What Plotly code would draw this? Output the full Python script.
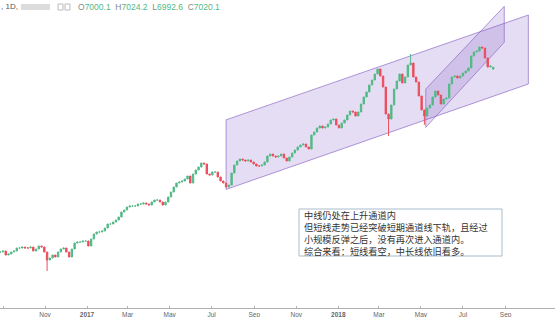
import pandas as pd
import plotly.graph_objects as go

# ---------------- data ----------------
START_DATE = "2016-08-28"
BAR_FREQ = "4D"
closes = [
    4804, 4816, 4768, 4780, 4804, 4816, 4852, 4852, 4864, 4852,
    4852, 4864, 4816, 4840, 4876, 4864, 4804, 4708, 4732, 4768,
    4744, 4804, 4840, 4852, 4804, 4744, 4840, 4912, 4924, 4924,
    4936, 4936, 4876, 4960, 5020, 5044, 5044, 5056, 5092, 5140,
    5140, 5164, 5188, 5224, 5284, 5308, 5344, 5356, 5356, 5356,
    5380, 5380, 5392, 5380, 5368, 5404, 5428, 5428, 5404, 5368,
    5404, 5464, 5524, 5584, 5632, 5644, 5656, 5680, 5716, 5632,
    5740, 5788, 5824, 5872, 5860, 5740, 5728, 5764, 5764, 5704,
    5656, 5632, 5584, 5608, 5752, 5848, 5896, 5920, 5908, 5896,
    5908, 5884, 5860, 5836, 5836, 5848, 5884, 5956, 5980, 5956,
    5944, 5956, 5980, 5932, 5896, 5944, 5992, 6028, 6064, 6088,
    6100, 6064, 6040, 6208, 6244, 6292, 6316, 6292, 6304, 6340,
    6388, 6400, 6328, 6292, 6352, 6388, 6448, 6496, 6484, 6436,
    6484, 6580, 6664, 6724, 6808, 6868, 6940, 7000, 6916, 6784,
    6460, 6400, 6568, 6760, 6856, 6940, 6832, 6904, 7048, 7072,
    6904, 6844, 6676, 6508, 6436, 6532, 6568, 6664, 6736, 6688,
    6580, 6640, 6652, 6820, 6904, 6916, 6892, 6916, 6952, 6976,
    7012, 7156, 7204, 7216, 7264, 7252, 7132, 7024, 7036, 7020.1,
]
# notable wicks (bar index -> price)
wick_lows = {17: 4576, 141: 6196, 154: 6330}
wick_highs = {149: 7180}
# last bar from the header
LAST_O, LAST_H, LAST_L, LAST_C = 7000.1, 7024.2, 6992.6, 7020.1

# channels
big_ch_dates = ["2017-07-22", "2018-10-04"]
big_ch_top = [6390, 7648]
big_ch_bot = [5555, 6820]
small_ch_dates = ["2018-05-08", "2018-08-30"]
small_ch_top = [6760, 7752]
small_ch_bot = [6300, 7320]

tick_dates = ["2016-09-01", "2016-11-01", "2017-01-01", "2017-03-01", "2017-05-01",
              "2017-07-01", "2017-09-01", "2017-11-01", "2018-01-01", "2018-03-01",
              "2018-05-01", "2018-07-01", "2018-09-01"]
tick_text = ["Sep", "Nov", "<b>2017</b>", "Mar", "May", "Jul", "Sep", "Nov",
             "<b>2018</b>", "Mar", "May", "Jul", "Sep"]

note_lines = [
    "中线仍处在上升通道内",
    "但短线走势已经突破短期通道线下轨，且经过",
    "小规模反弹之后，没有再次进入通道内。",
    "综合来看：短线看空，中长线依旧看多。",
]

# ---------------- build OHLC ----------------
dates = pd.date_range(START_DATE, periods=len(closes), freq=BAR_FREQ)
opens = [closes[0]] + closes[:-1]
highs = [max(o, c) for o, c in zip(opens, closes)]
lows = [min(o, c) for o, c in zip(opens, closes)]
for i, v in wick_lows.items():
    lows[i] = v
for i, v in wick_highs.items():
    highs[i] = v
opens[-1], highs[-1], lows[-1], closes[-1] = LAST_O, LAST_H, LAST_L, LAST_C

GREEN = "#53b987"
RED = "#eb4d5c"

fig = go.Figure()
fig.add_trace(go.Candlestick(
    x=dates, open=opens, high=highs, low=lows, close=closes,
    increasing=dict(line=dict(color=GREEN, width=1), fillcolor=GREEN),
    decreasing=dict(line=dict(color=RED, width=1), fillcolor=RED),
    whiskerwidth=0, showlegend=False, hoverinfo="skip",
))

W, H = 555, 317
PB = 9
PH = H - PB
SCALE = 12.0  # price units per pixel row
TOP_PRICE = 7840 - SCALE


def px(x):
    return x / W


def py(y):
    return 1 - y / PH


def chan_path(d, top, bot):
    return (f"M {d[0]},{bot[0]} L {d[0]},{top[0]} L {d[1]},{top[1]} "
            f"L {d[1]},{bot[1]} Z")


shapes = []
for d, t, b in [(big_ch_dates, big_ch_top, big_ch_bot),
                (small_ch_dates, small_ch_top, small_ch_bot)]:
    shapes.append(dict(type="path", xref="x", yref="y", path=chan_path(d, t, b),
                       fillcolor="rgba(126,87,194,0.2)",
                       line=dict(color="rgba(126,87,194,0.6)", width=1),
                       layer="below"))

# note box
shapes.append(dict(type="rect", xref="paper", yref="paper",
                   x0=px(299), x1=px(502), y0=py(256), y1=py(209),
                   line=dict(color="#a9bccd", width=1), fillcolor="rgba(255,255,255,0)"))
# blurred symbol + icons in header
shapes.append(dict(type="rect", xref="paper", yref="paper",
                   x0=px(21), x1=px(50), y0=py(10), y1=py(4),
                   line=dict(width=0), fillcolor="#dcdcdc"))
for x0 in (58, 65):
    shapes.append(dict(type="rect", xref="paper", yref="paper",
                       x0=px(x0), x1=px(x0 + 5), y0=py(10), y1=py(4),
                       line=dict(color="#bbbbbb", width=1), fillcolor="rgba(0,0,0,0)"))

annotations = [dict(text="<br>".join(note_lines), xref="paper", yref="paper",
                    x=px(302), y=py(233), xanchor="left", yanchor="middle",
                    align="left", showarrow=False,
                    font=dict(family="Noto Sans CJK SC", size=9.2, color="#333333"))]

annotations.append(dict(text=", 1D,", xref="paper", yref="paper", x=px(-1), y=py(7),
                        xanchor="left", yanchor="middle", showarrow=False,
                        font=dict(family="Liberation Sans", size=8, color="#555555")))
hdr = (f"O<span style='color:{GREEN}'>{LAST_O}</span>  "
       f"H<span style='color:{GREEN}'>{LAST_H}</span>  "
       f"L<span style='color:{GREEN}'>{LAST_L}</span>  "
       f"C<span style='color:{GREEN}'>{LAST_C}</span>")
annotations.append(dict(text=hdr, xref="paper", yref="paper", x=px(76), y=py(7),
                        xanchor="left", yanchor="middle", showarrow=False,
                        font=dict(family="Liberation Sans", size=8.5, color="#888888")))

fig.update_layout(
    width=W, height=H,
    margin=dict(l=0, r=0, t=0, b=PB, autoexpand=False),
    paper_bgcolor="white", plot_bgcolor="white",
    shapes=shapes, annotations=annotations,
    xaxis=dict(range=["2016-08-27 15:00", "2018-11-11 17:00"],
               rangeslider=dict(visible=False),
               tickvals=tick_dates, ticktext=tick_text,
               tickfont=dict(family="Liberation Sans", size=6.5, color="#666666"),
               showgrid=False, zeroline=False, showline=True, linecolor="#b0b0b0",
               linewidth=1, ticks="inside", ticklen=2, tickcolor="#b0b0b0",
               automargin=False),
    yaxis=dict(range=[TOP_PRICE - SCALE * PH, TOP_PRICE], visible=False,
               showgrid=False, fixedrange=True),
)

fig.write_html("out.html")
